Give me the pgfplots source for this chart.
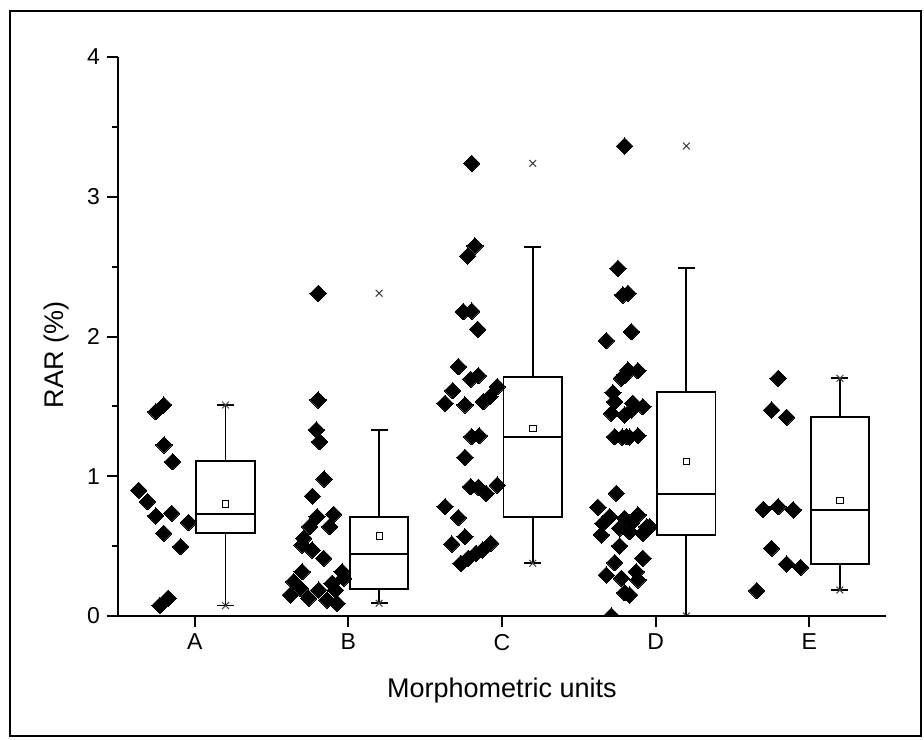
\documentclass[border=0pt]{standalone}
\usepackage{fontspec}
\setmainfont{Liberation Sans}
\usepackage{pgfplots}
\usepackage{pgfplotstable}
\pgfplotsset{compat=1.18}
\usepgfplotslibrary{statistics}

\newcommand\ticksize{\fontsize{11.5pt}{13pt}\selectfont}
\newcommand\labelsize{\fontsize{13.5pt}{15pt}\selectfont}

% Individual RAR values per morphometric unit (x is jittered to the left of the unit)
\pgfplotstableread{
x y
-0.254 1.462
-0.202 1.510
-0.200 1.224
-0.145 1.104
-0.365 0.899
-0.308 0.818
-0.254 0.716
-0.150 0.735
-0.041 0.670
-0.202 0.592
-0.093 0.496
-0.228 0.075
-0.174 0.127
}\unitA
\pgfplotstableread{
x y
0.803 2.309
0.803 1.546
0.792 1.331
0.813 1.247
0.842 0.980
0.766 0.857
0.796 0.711
0.904 0.728
0.878 0.639
0.748 0.639
0.709 0.556
0.699 0.508
0.764 0.472
0.839 0.413
0.699 0.317
0.959 0.317
0.969 0.270
0.644 0.246
0.894 0.234
0.688 0.198
0.807 0.186
0.915 0.186
0.622 0.150
0.742 0.127
0.861 0.114
0.926 0.091
}\unitB
\pgfplotstableread{
x y
1.803 3.239
1.824 2.648
1.777 2.576
1.748 2.178
1.803 2.182
1.842 2.051
1.716 1.784
1.796 1.694
1.846 1.720
1.679 1.612
1.629 1.522
1.759 1.510
1.878 1.533
1.922 1.569
1.969 1.641
1.803 1.283
1.852 1.290
1.759 1.135
1.796 0.925
1.846 0.921
1.896 0.878
1.969 0.937
1.629 0.782
1.716 0.704
1.759 0.567
1.673 0.515
1.926 0.520
1.733 0.377
1.781 0.413
1.831 0.449
1.874 0.472
}\unitC
\pgfplotstableread{
x y
2.798 3.363
2.755 2.488
2.787 2.297
2.820 2.309
2.679 1.970
2.842 2.034
2.777 1.701
2.820 1.760
2.885 1.755
2.800 1.725
2.722 1.598
2.712 1.450
2.798 1.438
2.852 1.522
2.917 1.498
2.733 1.533
2.842 1.474
2.733 1.283
2.783 1.280
2.831 1.280
2.885 1.290
2.810 1.285
2.744 0.878
2.624 0.778
2.701 0.711
2.798 0.699
2.885 0.723
2.961 0.639
2.657 0.663
2.842 0.663
2.766 0.628
2.646 0.580
2.831 0.603
2.917 0.592
2.943 0.639
2.766 0.501
2.917 0.413
2.733 0.382
2.679 0.293
2.777 0.270
2.874 0.317
2.885 0.258
2.798 0.167
2.831 0.150
2.712 0.000
}\unitD
\pgfplotstableread{
x y
3.798 1.701
3.755 1.474
3.853 1.422
3.701 0.763
3.798 0.782
3.896 0.759
3.755 0.484
3.853 0.372
3.944 0.348
3.658 0.181
}\unitE

\begin{document}
\begin{tikzpicture}
\path[use as bounding box] (-59pt,-61.5pt) rectangle (403pt,308pt);
\begin{axis}[
  at={(0,0)}, anchor=south west,
  scale only axis,
  width=384pt, height=279.5pt,
  xmin=-0.5, xmax=4.5,
  ymin=0, ymax=4,
  axis lines*=left,
  axis line style={line width=1pt},
  axis on top,
  clip marker paths=true,
  xtick={0,1,2,3,4},
  xticklabels={A,B,C,D,E},
  ytick={0,1,2,3,4},
  minor y tick num=1,
  tick align=outside,
  major tick length=5.5pt,
  minor tick length=2.8pt,
  every tick/.style={black, line width=1pt},
  /pgf/number format/assume math mode=true,
  every tick label/.append style={font=\ticksize},
  xlabel={Morphometric units},
  ylabel={RAR (\%)},
  every axis x label/.style={at={(axis description cs:0.5,-0.1449)}, anchor=base, font=\labelsize},
  every axis y label/.style={at={(axis description cs:-0.0806,0.467)}, rotate=90, anchor=center, font=\labelsize},
  boxplot/draw direction=y,
  dot/.style={only marks, mark=square*, mark size=2.9pt,
              mark options={rotate=45, fill=black, draw=black, line width=0pt}},
  mybox/.style={black, line width=0.9pt, solid},
]
% individual values
\addplot[dot] table[x=x, y=y] {\unitA};
\addplot[dot] table[x=x, y=y] {\unitB};
\addplot[dot] table[x=x, y=y] {\unitC};
\addplot[dot] table[x=x, y=y] {\unitD};
\addplot[dot] table[x=x, y=y] {\unitE};
% box statistics
\addplot[mybox, boxplot prepared={draw position=0.2, box extend=0.38, whisker extend=0.11,
  lower whisker=0.075, lower quartile=0.594, median=0.732, upper quartile=1.109, upper whisker=1.510}]
  coordinates {};
\addplot[mybox, boxplot prepared={draw position=1.2, box extend=0.38, whisker extend=0.11,
  lower whisker=0.091, lower quartile=0.191, median=0.441, upper quartile=0.711, upper whisker=1.330}]
  coordinates {};
\addplot[mybox, boxplot prepared={draw position=2.2, box extend=0.38, whisker extend=0.11,
  lower whisker=0.377, lower quartile=0.706, median=1.283, upper quartile=1.713, upper whisker=2.643}]
  coordinates {};
\addplot[mybox, boxplot prepared={draw position=3.2, box extend=0.38, whisker extend=0.11,
  lower whisker=0.000, lower quartile=0.577, median=0.873, upper quartile=1.605, upper whisker=2.488}]
  coordinates {};
\addplot[mybox, boxplot prepared={draw position=4.2, box extend=0.38, whisker extend=0.11,
  lower whisker=0.186, lower quartile=0.372, median=0.759, upper quartile=1.426, upper whisker=1.701}]
  coordinates {};
% means
\addplot[only marks, mark=square, mark size=1.6pt, mark options={line width=0.4pt, black}]
  coordinates {(0.2,0.802) (1.2,0.572) (2.2,1.343) (3.2,1.108) (4.2,0.829)};
% minimum and maximum
\addplot[only marks, mark=x, mark size=2.4pt, mark options={line width=0.5pt, black!75}]
  coordinates {(0.2,0.075) (0.2,1.510) (1.2,0.091) (1.2,2.309) (2.2,0.377) (2.2,3.239)
               (3.2,0.000) (3.2,3.363) (4.2,0.186) (4.2,1.701)};
\end{axis}
\draw[line width=1pt] (-54pt,-60pt) rectangle (401.5pt,302.5pt);
\end{tikzpicture}
\end{document}
